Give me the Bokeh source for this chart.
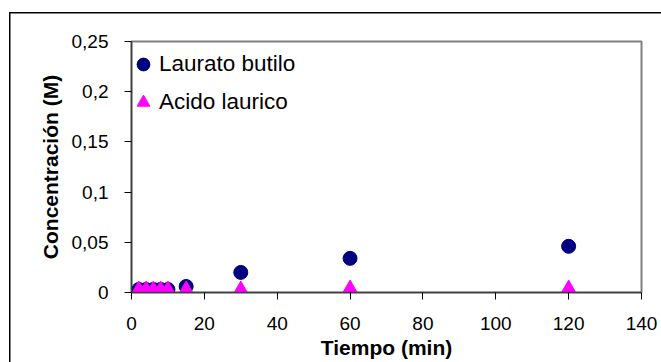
from bokeh.plotting import figure
from bokeh.models import Range1d, FixedTicker, Legend, LegendItem
from bokeh.embed import file_html
from bokeh.resources import INLINE

# Data
tiempo = [2, 4, 6, 8, 10, 15, 30, 60, 120]
laurato_butilo = [0.003, 0.003, 0.003, 0.003, 0.003, 0.006, 0.020, 0.034, 0.046]
acido_laurico = [0.001, 0.001, 0.001, 0.001, 0.001, 0.001, 0.001, 0.002, 0.002]
serie_nombres = ["Laurato butilo", "Acido laurico"]
x_ticks = [0, 20, 40, 60, 80, 100, 120, 140]
y_ticks = [0, 0.05, 0.1, 0.15, 0.2, 0.25]
y_tick_labels = ["0", "0,05", "0,1", "0,15", "0,2", "0,25"]

FONT = "Liberation Sans"

p = figure(width=661, height=362, output_backend="svg", toolbar_location=None,
           x_range=Range1d(0, 140), y_range=Range1d(0, 0.25),
           min_border_left=131, min_border_right=20, min_border_top=41, min_border_bottom=70)
p.background_fill_color = "white"
p.border_fill_alpha = 0
# outer chart-area border (left and top edges visible)
p.styles = {
    "background": ("linear-gradient(#000, #000) 9px 12px / 1.5px 100% no-repeat, "
                   "linear-gradient(#000, #000) 9px 12px / 100% 1.5px no-repeat, #ffffff"),
}
p.outline_line_color = "#808080"
p.outline_line_width = 2
p.xgrid.visible = False
p.ygrid.visible = False

for ax in (p.xaxis[0], p.yaxis[0]):
    ax.axis_line_color = "#404040"
    ax.axis_line_width = 1.5
    ax.major_tick_line_color = "#000000"
    ax.major_tick_in = 0
    ax.major_tick_out = 7
    ax.minor_tick_line_color = None
    ax.major_label_text_font = FONT
    ax.major_label_text_font_size = "19px"
    ax.major_label_text_color = "#000000"
    ax.axis_label_text_font = FONT
    ax.axis_label_text_font_size = "21px"
    ax.axis_label_text_font_style = "bold"
    ax.axis_label_text_color = "#000000"

p.xaxis.ticker = FixedTicker(ticks=x_ticks)
p.yaxis.ticker = FixedTicker(ticks=y_ticks)
p.yaxis.major_label_overrides = {t: l for t, l in zip(y_ticks, y_tick_labels)}
p.xaxis.axis_label = "Tiempo (min)"
p.yaxis.axis_label = "Concentración (M)"
p.xaxis.major_label_standoff = 17
p.xaxis.axis_label_standoff = 3
p.yaxis.major_label_standoff = 16
p.yaxis.axis_label_standoff = 7

r1 = p.scatter(tiempo, laurato_butilo, marker="circle", size=14,
               fill_color="#000080", line_color="#000080")
r2 = p.scatter(tiempo, acido_laurico, marker="triangle", size=18,
               fill_color="#FF00FF", line_color="#FF00FF")

legend = Legend(items=[LegendItem(label=serie_nombres[0], renderers=[r1]),
                       LegendItem(label=serie_nombres[1], renderers=[r2])],
                location=(-4, 171), orientation="vertical")
legend.glyph_width = 32
legend.glyph_height = 38
legend.spacing = -3
legend.label_standoff = 0
legend.padding = 0
legend.margin = 0
legend.border_line_color = None
legend.background_fill_alpha = 0
legend.label_text_font = FONT
legend.label_text_font_size = "22.5px"
legend.label_text_color = "#000000"
p.add_layout(legend, "center")

open("out.html", "w").write(file_html(p, INLINE))
